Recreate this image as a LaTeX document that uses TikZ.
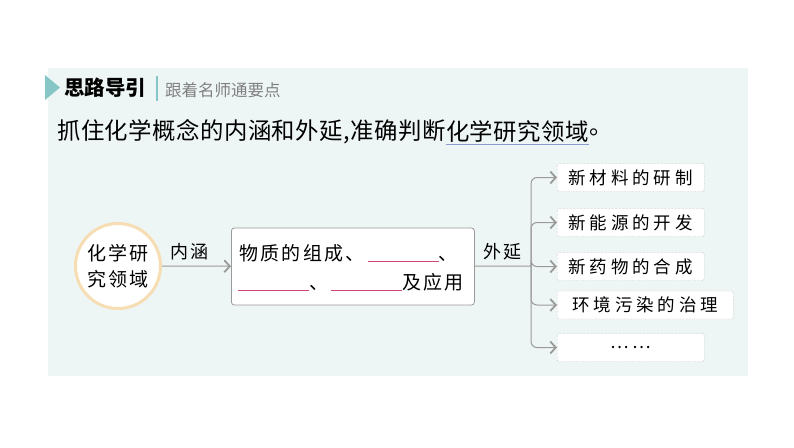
\documentclass[tikz,border=0pt]{standalone}
\usepackage{fontspec}
\setmainfont{Noto Sans CJK SC}
\usepackage{tikz}
\usetikzlibrary{calc,arrows.meta,positioning}
\definecolor{panelbg}{HTML}{EEF6F5}
\definecolor{tealmark}{HTML}{86C6C6}
\definecolor{ringcol}{HTML}{F6DDB4}
\definecolor{linkgray}{HTML}{9A9A9A}
\definecolor{blankred}{HTML}{D2457A}
\definecolor{ulblue}{HTML}{8A9BD0}
\newcommand{\blankline}{{\color{blankred}\rule[-2pt]{71pt}{1.1pt}}}

\begin{document}
\begin{tikzpicture}[x=1pt,y=-1pt,>={Straight Barb[length=5.5pt,width=12pt,line width=1.8pt]},
  link/.style={draw=linkgray,line width=1pt},
  leadfont/.style={font=\fontsize{23.4}{26}\selectfont\addfontfeature{LetterSpace=2}},
  itembox/.style={draw=linkgray,densely dotted,fill=white,rounded corners=2pt,
    minimum width=147pt,minimum height=28pt,anchor=west,inner sep=0pt,
    font=\fontsize{17.5}{20}\selectfont\addfontfeature{LetterSpace=22}}]
  \useasboundingbox (0,0) rectangle (794,447);
  \fill[panelbg] (48,68) rectangle (748,376);
  % header
  \fill[tealmark] (45,75) -- (60,87.5) -- (45,100) -- cycle;
  \node[anchor=west,inner sep=0pt,font=\fontsize{20.5}{22}\selectfont\bfseries] (head) at (64,88) {思路导引};
  \draw[tealmark,line width=1.5pt] (157,76) -- (157,101);
  \node[anchor=west,inner sep=0pt,text=gray,font=\fontsize{16.5}{18}\selectfont] (sub) at (165,90) {跟着名师通要点};
  \node[anchor=west,inner sep=0pt,leadfont] (lead) at (57,132)
    {抓住化学概念的内涵和外延,准确判断};
  \node[right=0pt of lead,inner sep=0pt,leadfont] (field) {化学研究领域};
  \node[right=0pt of field,inner sep=0pt,leadfont] (stop) {。};
  \draw[ulblue,line width=0.9pt] ([yshift=-1pt]field.south west) -- ([yshift=-1pt]field.south east);
  % concept and its content
  \node[circle,draw=ringcol,line width=3pt,fill=white,minimum size=85pt,align=center,
    font=\fontsize{19}{26}\selectfont\addfontfeature{LetterSpace=12}] (core) at (118,266) {化学研\\究领域};
  \node[draw=linkgray,line width=0.8pt,fill=white,rounded corners=3pt,anchor=west,
    minimum width=243pt,minimum height=77pt] (inner) at (231,266.5) {};
  \node[anchor=west,inner sep=0pt,font=\fontsize{19}{22}\selectfont\addfontfeature{LetterSpace=12}] (row1) at (239,253) {物质的组成、\,\blankline、};
  \node[anchor=west,inner sep=0pt,font=\fontsize{19}{22}\selectfont\addfontfeature{LetterSpace=12}] (row2) at (238,282) {\blankline、\,\blankline 及应用};
  \draw[link,->] (core) -- (inner) node[pos=0.4,above=2pt,font=\fontsize{18}{20}\selectfont\addfontfeature{LetterSpace=12}] {内涵};
  % extension branches
  \coordinate (fork) at (531,266);
  \draw[link] (inner) -- (fork) node[midway,above=2pt,font=\fontsize{18}{20}\selectfont\addfontfeature{LetterSpace=12}] {外延};
  \foreach \n/\y/\w/\t in {1/177.5/147/新材料的研制, 2/222.5/147/新能源的开发,
      3/266.5/147/新药物的合成, 4/305/176/环境污染的治理, 5/347.5/147/……}
    \node[itembox,minimum width=\w pt] (item\n) at (557,\y) {\t};
  \foreach \n in {1,...,5}
    \draw[link,->,rounded corners=6pt] (fork) |- (item\n.west);
\end{tikzpicture}
\end{document}
